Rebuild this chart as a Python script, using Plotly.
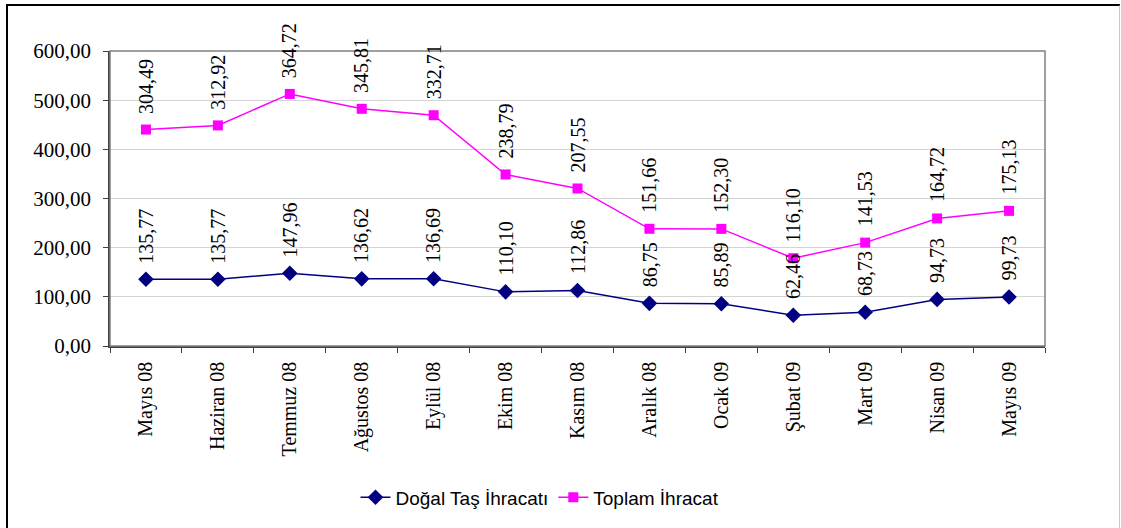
import plotly.graph_objects as go

months = ["Mayıs 08", "Haziran 08", "Temmuz 08", "Ağustos 08", "Eylül 08", "Ekim 08",
          "Kasım 08", "Aralık 08", "Ocak 09", "Şubat 09", "Mart 09", "Nisan 09", "Mayıs 09"]
dogal_tas = [135.77, 135.77, 147.96, 136.62, 136.69, 110.10, 112.86,
             86.75, 85.89, 62.46, 68.73, 94.73, 99.73]
toplam = [304.49, 312.92, 364.72, 345.81, 332.71, 238.79, 207.55,
          151.66, 152.30, 116.10, 141.53, 164.72, 175.13]
y_ticks = [0, 100, 200, 300, 400, 500, 600]

W, H = 1121, 528
L, R, T, B = 110, 1045, 51, 349

serif = "Liberation Serif"
sans = "Liberation Sans"

fig = go.Figure()
fig.add_trace(go.Scatter(
    x=months, y=dogal_tas, name="Doğal Taş İhracatı",
    mode="lines+markers", stackgroup="s", fill="none",
    line=dict(color="#000080", width=1.5),
    marker=dict(symbol="diamond", size=12, color="#000080"),
))
fig.add_trace(go.Scatter(
    x=months, y=toplam, name="Toplam İhracat",
    mode="lines+markers", stackgroup="s", fill="none",
    line=dict(color="#FF00FF", width=1.5),
    marker=dict(symbol="square", size=10, color="#FF00FF"),
))

def fmt(v):
    return f"{v:.2f}".replace(".", ",")

# value labels, rotated, sitting above each (stacked) point
for i, m in enumerate(months):
    base = dogal_tas[i]
    fig.add_annotation(x=m, y=base, text=fmt(dogal_tas[i]), textangle=-90,
                       showarrow=False, yanchor="bottom", yshift=14,
                       font=dict(family=serif, size=20, color="black"))
    fig.add_annotation(x=m, y=base + toplam[i], text=fmt(toplam[i]), textangle=-90,
                       showarrow=False, yanchor="bottom", yshift=14,
                       font=dict(family=serif, size=20, color="black"))

# outer chart frame
pw, ph = R - L, B - T
def px_x(p): return (p - L) / pw
def px_y(p): return (B - p) / ph
fig.add_shape(type="line", xref="paper", yref="paper",
              x0=px_x(7), x1=px_x(7), y0=px_y(540), y1=px_y(4.5),
              line=dict(color="black", width=2))
fig.add_shape(type="line", xref="paper", yref="paper",
              x0=px_x(6), x1=px_x(1120), y0=px_y(4.5), y1=px_y(4.5),
              line=dict(color="black", width=2))
fig.add_shape(type="line", xref="paper", yref="paper",
              x0=px_x(1119.5), x1=px_x(1119.5), y0=px_y(540), y1=px_y(5),
              line=dict(color="#c8c8c8", width=1))
# plot area frame (top/right)
fig.add_shape(type="rect", xref="paper", yref="paper", x0=0, x1=1, y0=0, y1=1,
              line=dict(color="#808080", width=1.5))

fig.update_layout(
    width=W, height=H,
    margin=dict(l=L, r=W - R, t=T, b=H - B),
    paper_bgcolor="white", plot_bgcolor="white",
    separators=",.",
    showlegend=True,
    legend=dict(orientation="h", x=(540 - L) / pw, xanchor="center",
                y=px_y(502), yanchor="middle",
                font=dict(family=sans, size=19, color="black"),
                tracegroupgap=0),
    xaxis=dict(type="category", tickson="boundaries", ticks="outside", ticklen=5,
               tickcolor="#404040", showline=True, linecolor="#404040", linewidth=1.5,
               showgrid=False, tickangle=-90, ticklabelstandoff=6,
               tickfont=dict(family=serif, size=20, color="black"),
               range=[-0.5, len(months) - 0.5]),
    yaxis=dict(range=[0, 600], tickvals=y_ticks, tickformat=".2f",
               ticks="outside", ticklen=5, tickcolor="#404040",
               showline=True, linecolor="#404040", linewidth=1.5,
               showgrid=True, gridcolor="#d4d4d4", gridwidth=1,
               zeroline=False, ticklabelstandoff=8,
               tickfont=dict(family=serif, size=21, color="black")),
)

fig.write_html("out.html")
